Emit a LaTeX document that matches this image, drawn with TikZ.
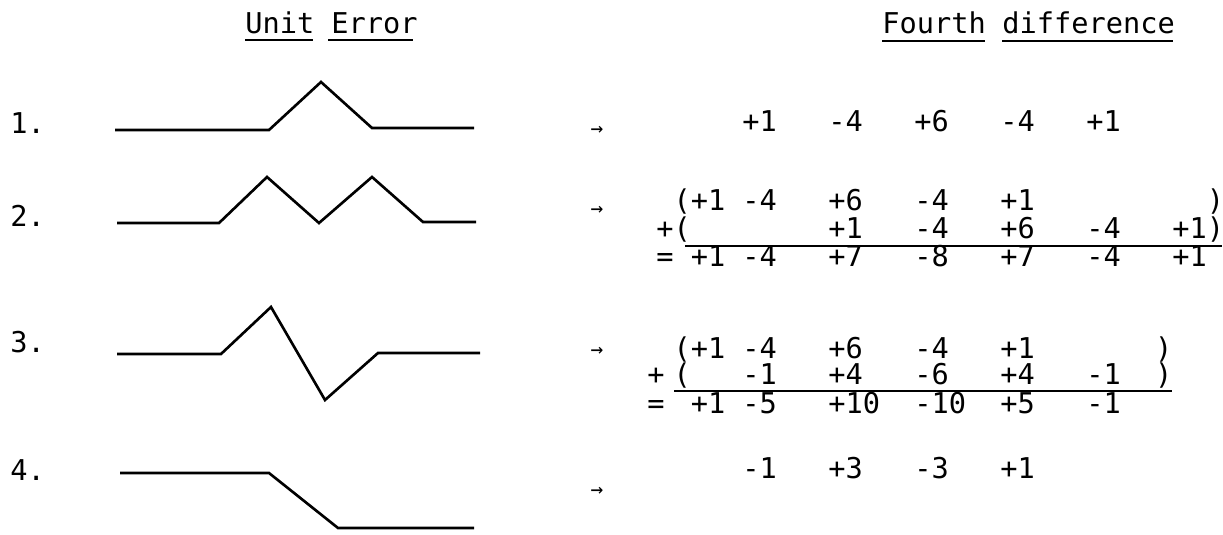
\documentclass[tikz,border=0pt]{standalone}
\usepackage{fontspec}
\setmonofont{DejaVu Sans Mono}
\usetikzlibrary{arrows.meta}

\begin{document}
\begin{tikzpicture}[
    x=0.02cm, y=-0.02cm,
    txt/.style={inner sep=0pt, anchor=base west, font=\ttfamily\fontsize{16.3}{19}\selectfont},
    num/.style={txt},
    arrtxt/.style={inner sep=0pt, font=\ttfamily\fontsize{12}{14}\selectfont},
    curve/.style={line width=1.5pt, line join=miter},
    rule/.style={line width=1.4pt}
]
\useasboundingbox (0,0) rectangle (1223,534);

% headings
\node[txt] (tunit) at (245,33) {Unit};
\node[txt] (terror) at (331,33) {Error};
\node[txt] (tfourth) at (882,33) {Fourth};
\node[txt] (tdiff) at (1002,33) {difference};
\draw[rule] (245,40) -- (313,40);
\draw[rule] (328,40) -- (413,40);
\draw[rule] (882,41) -- (985,41);
\draw[rule] (1002,41) -- (1173,41);

% row labels
\node[txt] (lab1) at (10,133) {1.};
\node[txt] (lab2) at (10,226) {2.};
\node[txt] (lab3) at (10,352) {3.};
\node[txt] (lab4) at (10,480) {4.};

% unit error shapes
\draw[curve] (115,130) -- (269,130) -- (321,82) -- (372,128) -- (474,128);
\draw[curve] (117,223) -- (219,223) -- (267,177) -- (319,223) -- (372,177) -- (423,222) -- (476,222);
\draw[curve] (117,354) -- (221,354) -- (271,307) -- (325,400) -- (378,353) -- (480,353);
\draw[curve] (120,473) -- (269,473) -- (338,528) -- (474,528);

% arrows
\node[arrtxt] (ar1) at (597,131) {→};
\node[arrtxt] (ar2) at (597,211) {→};
\node[arrtxt] (ar3) at (597,352) {→};
\node[arrtxt] (ar4) at (597,492) {→};

% row 1
\foreach \c/\v in {5/+1,10/-4,15/+6,20/-4,25/+1}
  \node[num] (r1-\c) at ({656+17.2*\c},131) {\v};

% row 2
\node[num] (r2a-0) at ({656+17.2},210) {(};
\foreach \c/\v in {2/+1,5/-4,10/+6,15/-4,20/+1}
  \node[num] (r2a-\c) at ({656+17.2*\c},210) {\v};
\node[num] (r2a-32) at ({656+17.2*32},210) {)};
\node[num] (r2b-p) at (656,238) {+(};
\foreach \c/\v in {10/+1,15/-4,20/+6,25/-4,30/+1}
  \node[num] (r2b-\c) at ({656+17.2*\c},238) {\v};
\node[num] (r2b-32) at ({656+17.2*32},238) {)};
\draw[rule] (685,246) -- (1222,246);
\node[num] (r2c-e) at (656,266) {=};
\foreach \c/\v in {2/+1,5/-4,10/+7,15/-8,20/+7,25/-4,30/+1}
  \node[num] (r2c-\c) at ({656+17.2*\c},266) {\v};

% row 3
\node[num] (r3a-0) at ({656+17.2},358) {(};
\foreach \c/\v in {2/+1,5/-4,10/+6,15/-4,20/+1}
  \node[num] (r3a-\c) at ({656+17.2*\c},358) {\v};
\node[num] (r3a-29) at ({656+17.2*29},358) {)};
\node[num] (r3b-p) at (647,384) {+};
\node[num] (r3b-0) at ({656+17.2},384) {(};
\foreach \c/\v in {5/-1,10/+4,15/-6,20/+4,25/-1}
  \node[num] (r3b-\c) at ({656+17.2*\c},384) {\v};
\node[num] (r3b-29) at ({656+17.2*29},384) {)};
\draw[rule] (674,391) -- (1172,391);
\node[num] (r3c-e) at (647,413) {=};
\foreach \c/\v in {2/+1,5/-5,10/+10,15/-10,20/+5,25/-1}
  \node[num] (r3c-\c) at ({656+17.2*\c},413) {\v};

% row 4
\foreach \c/\v in {5/-1,10/+3,15/-3,20/+1}
  \node[num] (r4-\c) at ({656+17.2*\c},478) {\v};
\end{tikzpicture}
\end{document}
